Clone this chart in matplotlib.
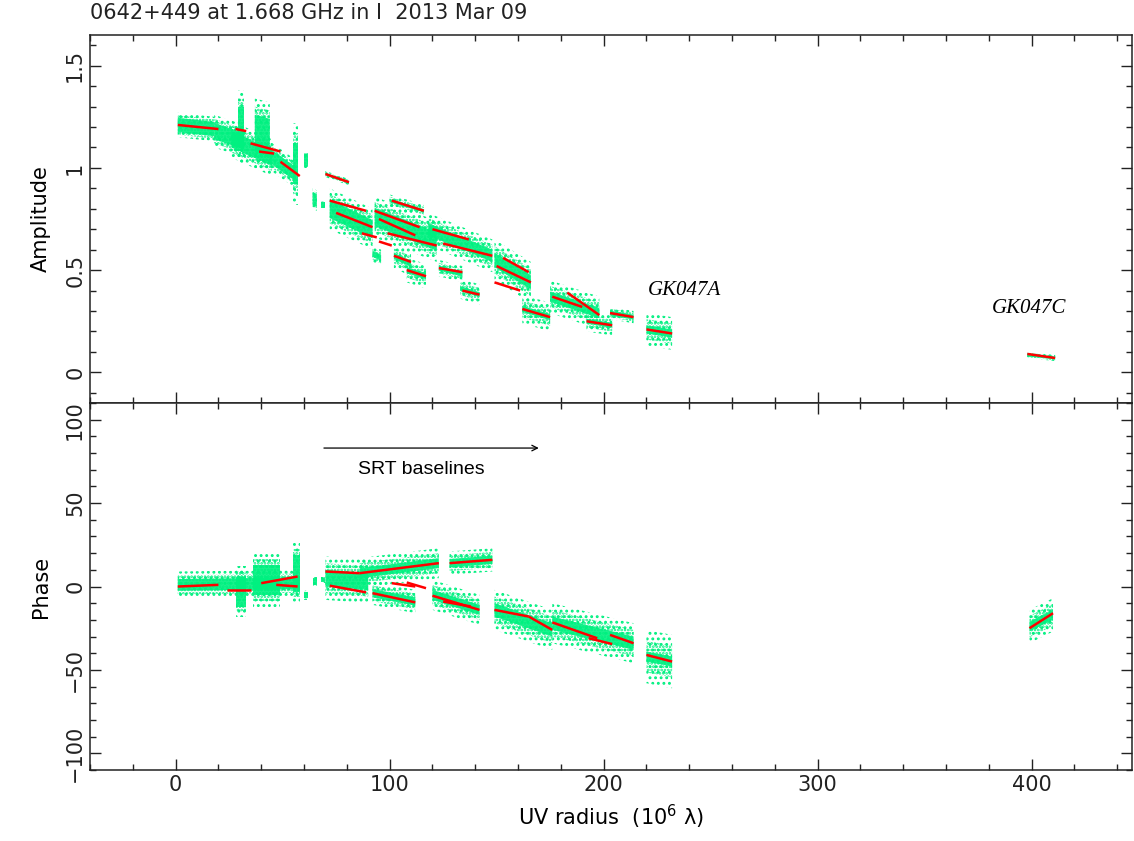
import matplotlib
matplotlib.use("Agg")
import matplotlib.pyplot as plt

# Amplitude panel: green visibility clouds along each baseline track
amp_cloud_x0 = [1, 18, 26, 29, 37, 44, 55, 60, 64, 68, 70, 72, 93, 100, 92, 102, 108, 118, 123, 133, 149, 162, 175, 192, 203, 220, 398]
amp_cloud_x1 = [18, 32, 45, 32, 44, 56, 57, 62, 66, 70, 81, 92, 122, 116, 96, 110, 117, 148, 134, 142, 166, 175, 198, 204, 214, 232, 411]
amp_cloud_y0 = [1.21, 1.18, 1.14, 1.20, 1.17, 1.06, 1.02, 1.04, 0.85, 0.82, 0.97, 0.80, 0.76, 0.84, 0.58, 0.57, 0.50, 0.70, 0.51, 0.41, 0.55, 0.31, 0.37, 0.25, 0.29, 0.21, 0.085]
amp_cloud_y1 = [1.19, 1.13, 1.05, 1.20, 1.15, 0.97, 1.02, 1.04, 0.84, 0.82, 0.93, 0.70, 0.64, 0.79, 0.56, 0.53, 0.47, 0.57, 0.48, 0.38, 0.44, 0.27, 0.29, 0.23, 0.27, 0.19, 0.070]
amp_cloud_core = [0.035, 0.04, 0.04, 0.10, 0.09, 0.035, 0.10, 0.03, 0.03, 0.015, 0.006, 0.045, 0.045, 0.008, 0.015, 0.015, 0.015, 0.03, 0.012, 0.012, 0.035, 0.015, 0.025, 0.012, 0.012, 0.02, 0.007]
amp_cloud_halo = [0.06, 0.08, 0.09, 0.18, 0.17, 0.07, 0.20, 0.04, 0.05, 0.02, 0.015, 0.10, 0.10, 0.03, 0.04, 0.06, 0.06, 0.08, 0.04, 0.05, 0.10, 0.07, 0.08, 0.05, 0.03, 0.08, 0.015]

# Amplitude panel: red model tracks
amp_mod_x0 = [1, 28, 35, 39, 49, 70, 72, 75, 87, 101, 93, 95, 99, 95, 102, 108, 120, 125, 123, 134, 153, 150, 149, 162, 176, 183, 192, 203, 220, 398]
amp_mod_x1 = [20, 33, 49, 46, 58, 81, 89, 92, 94, 116, 114, 112, 122, 101, 110, 117, 137, 148, 134, 142, 165, 166, 161, 175, 190, 198, 204, 214, 232, 411]
amp_mod_y0 = [1.21, 1.19, 1.12, 1.08, 1.03, 0.97, 0.84, 0.78, 0.68, 0.84, 0.79, 0.75, 0.68, 0.64, 0.57, 0.50, 0.70, 0.63, 0.51, 0.40, 0.56, 0.52, 0.44, 0.31, 0.37, 0.39, 0.25, 0.29, 0.21, 0.09]
amp_mod_y1 = [1.19, 1.18, 1.08, 1.07, 0.96, 0.93, 0.79, 0.71, 0.66, 0.79, 0.71, 0.67, 0.62, 0.62, 0.54, 0.47, 0.65, 0.57, 0.49, 0.38, 0.49, 0.44, 0.40, 0.27, 0.32, 0.28, 0.23, 0.27, 0.19, 0.07]

# Phase panel: green clouds
ph_cloud_x0 = [1, 28, 36, 55, 60, 64, 68, 70, 86, 92, 128, 120, 149, 176, 220, 399]
ph_cloud_x1 = [58, 33, 49, 58, 62, 66, 70, 90, 123, 112, 148, 142, 176, 214, 232, 410]
ph_cloud_y0 = [1, -3, 4, 8, -5, 3, 4, 5, 8, -4, 14, -5, -14, -22, -42, -24]
ph_cloud_y1 = [2, -3, 4, 8, -5, 3, 4, 3, 14, -9, 16, -14, -26, -34, -45, -17]
ph_cloud_core = [3.5, 9, 9, 11, 2, 2, 1, 5, 3, 2.5, 2.5, 3, 4, 4, 3, 3]
ph_cloud_halo = [8, 15, 16, 18, 3, 3, 2, 13, 9, 7, 7, 9, 12, 12, 16, 10]

# Phase panel: red model tracks
ph_mod_x0 = [1, 24, 40, 47, 70, 72, 86, 101, 108, 92, 128, 120, 125, 149, 165, 176, 193, 203, 220, 399]
ph_mod_x1 = [20, 35, 57, 57, 86, 89, 123, 112, 117, 112, 148, 142, 138, 165, 176, 197, 204, 214, 232, 410]
ph_mod_y0 = [0, -2, 2, 1, 9, 0.5, 8, 2, 2.4, -4, 14, -5.5, -9, -14, -18, -21.5, -31, -29, -41, -25]
ph_mod_y1 = [1, -2, 6, 0, 8, -3.5, 14, 0, -1, -9.5, 16, -14, -12, -18, -26, -31, -34.5, -34, -45, -16]

green = '#00f080'
red = '#ff0000'

plt.rcParams['font.family'] = 'DejaVu Sans'
plt.rcParams['hatch.linewidth'] = 1.3

fig = plt.figure(figsize=(11.34, 8.41), dpi=100)
ax_amp = fig.add_axes([0.0794, 0.5208, 0.9190, 0.4376])
ax_ph = fig.add_axes([0.0794, 0.0844, 0.9190, 0.4364], sharex=ax_amp)


def draw_clouds(ax, x0s, x1s, y0s, y1s, cores, halos):
    for x0, x1, y0, y1, c, h in zip(x0s, x1s, y0s, y1s, cores, halos):
        # sparse outer halo, denser middle band, solid core
        ax.fill_between([x0, x1], [y0 - h, y1 - h], [y0 + h, y1 + h],
                        facecolor='none', edgecolor=green, hatch='...', linewidth=0, zorder=2)
        m = 0.5 * (c + h)
        ax.fill_between([x0, x1], [y0 - m, y1 - m], [y0 + m, y1 + m],
                        facecolor='none', edgecolor=green, hatch='.....', linewidth=0, zorder=3)
        ax.fill_between([x0, x1], [y0 - c, y1 - c], [y0 + c, y1 + c],
                        facecolor=green, edgecolor='none', linewidth=0, alpha=0.9, zorder=4)


def draw_model(ax, x0s, x1s, y0s, y1s):
    for x0, x1, y0, y1 in zip(x0s, x1s, y0s, y1s):
        ax.plot([x0, x1], [y0, y1], color=red, lw=1.8, solid_capstyle='butt', zorder=5)


draw_clouds(ax_amp, amp_cloud_x0, amp_cloud_x1, amp_cloud_y0, amp_cloud_y1, amp_cloud_core, amp_cloud_halo)
draw_model(ax_amp, amp_mod_x0, amp_mod_x1, amp_mod_y0, amp_mod_y1)
draw_clouds(ax_ph, ph_cloud_x0, ph_cloud_x1, ph_cloud_y0, ph_cloud_y1, ph_cloud_core, ph_cloud_halo)
draw_model(ax_ph, ph_mod_x0, ph_mod_x1, ph_mod_y0, ph_mod_y1)

# Axes styling (PGPLOT look: ticks inside on every side)
for ax in (ax_amp, ax_ph):
    ax.set_xlim(-40, 447)
    ax.set_xticks([0, 100, 200, 300, 400])
    ax.set_xticks(range(-40, 447, 20), minor=True)
    ax.tick_params(which='both', direction='in', top=True, right=True, labelsize=15,
                   colors='#222222', width=1.0)
    ax.tick_params(which='major', length=8)
    ax.tick_params(which='minor', length=4)
    for s in ax.spines.values():
        s.set_linewidth(1.1)
        s.set_color('#222222')

ax_amp.set_ylim(-0.15, 1.65)
ax_amp.set_yticks([0, 0.5, 1, 1.5])
ax_amp.set_yticklabels(['0', '0.5', '1', '1.5'], rotation=90, va='center')
ax_amp.set_yticks([i / 10 for i in range(-1, 17)], minor=True)
ax_amp.tick_params(labelbottom=False)
ax_amp.set_ylabel('Amplitude', fontsize=15, labelpad=10)

ax_ph.set_ylim(-110, 110)
ax_ph.set_yticks([-100, -50, 0, 50, 100])
ax_ph.set_yticklabels(['\u2212100', '\u221250', '0', '50', '100'], rotation=90, va='center')
ax_ph.set_yticks(range(-110, 111, 10), minor=True)
ax_ph.set_ylabel('Phase', fontsize=15, labelpad=10)
ax_ph.set_xlabel('UV radius  (10$^6$ \u03bb)', fontsize=15, labelpad=6)

# Annotations
ax_amp.text(238, 0.40, 'GK047A', family='Liberation Serif', style='italic', fontsize=15,
            ha='center', va='center')
ax_amp.text(399, 0.31, 'GK047C', family='Liberation Serif', style='italic', fontsize=15,
            ha='center', va='center')
ax_ph.annotate('', xy=(171, 83), xytext=(68, 83),
               arrowprops=dict(arrowstyle='->', color='black', lw=0.9))
ax_ph.text(115, 70, 'SRT baselines', family='Liberation Sans', fontsize=14, ha='center', va='center')

fig.text(0.0794, 0.985, '0642+449 at 1.668 GHz in I  2013 Mar 09', fontsize=15,
         ha='left', va='center', color='#222222')

fig.savefig('out.png', dpi=100)
